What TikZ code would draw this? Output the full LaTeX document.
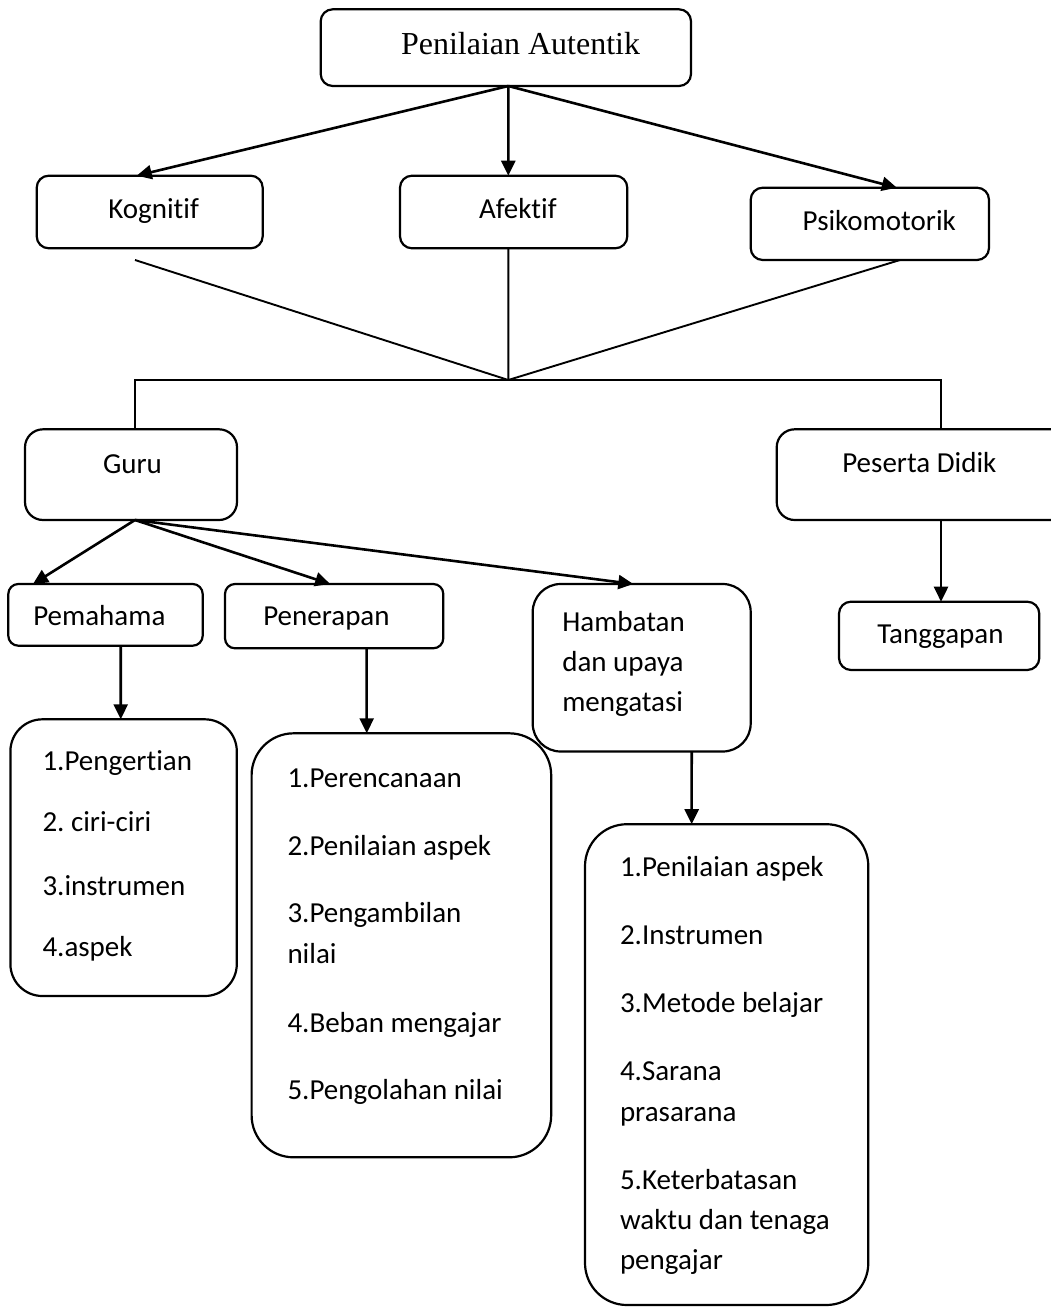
\documentclass[tikz,border=0pt]{standalone}
\usepackage{fontspec}
\setmainfont{Carlito}[Ligatures={NoCommon}]
\newfontfamily\titlefont{Liberation Serif}
\usetikzlibrary{arrows.meta}
\frenchspacing
\begin{document}
\begin{tikzpicture}[x=1pt,y=-1pt,
  box/.style={draw, line width=2.2pt, rounded corners=#1, inner sep=0pt, outer sep=0pt},
  box/.default=12pt,
  lbl/.style={inner sep=0pt, outer sep=0pt, anchor=base west, font=\fontsize{29}{40}\selectfont},
  ttl/.style={inner sep=0pt, outer sep=0pt, anchor=base west, font=\titlefont\fontsize{32}{38}\selectfont},
  arr/.style={line width=2.6pt, -{Triangle[length=15pt,width=14pt]}},
  link/.style={line width=1.9pt}]
\path[fill=white, use as bounding box] (0,0) rectangle (1051,1309);
\clip (0,0) rectangle (1051,1309);

% boxes
\node[box] (title) at (505.85,47.65) [minimum width=370.3pt, minimum height=76.7pt] {};
\node[box] (kog) at (149.7,212) [minimum width=226pt, minimum height=72.6pt] {};
\node[box] (afe) at (513.65,212) [minimum width=227.3pt, minimum height=72.6pt] {};
\node[box] (psi) at (869.85,223.85) [minimum width=238.3pt, minimum height=72.3pt] {};
\node[box=18pt] (guru) at (131,474.65) [minimum width=212pt, minimum height=90.7pt] {};
\node[box=18pt] (pes) at (941,474.65) [minimum width=328.6pt, minimum height=90.7pt] {};
\node[box=10pt] (pem) at (105.5,614.85) [minimum width=194.4pt, minimum height=61.7pt] {};
\node[box=10pt] (pen) at (334.15,616.15) [minimum width=218.3pt, minimum height=64.3pt] {};
\node[box=28pt] (ham) at (641.7,667.75) [minimum width=218pt, minimum height=167.5pt] {};
\node[box] (tan) at (939.15,635.85) [minimum width=200.3pt, minimum height=68.3pt] {};
\node[box=32pt] (l1) at (123.6,857.65) [minimum width=226.4pt, minimum height=276.7pt] {};
\node[box=42pt] (l2) at (401.4,945.3) [minimum width=299.6pt, minimum height=424pt] {};
\node[box=42pt] (l3) at (726.65,1064.6) [minimum width=283.3pt, minimum height=480.8pt] {};

% texts
\node[ttl] (tt) at (401,54.3) {Penilaian Autentik};
\node[lbl] (kogt) at (108.3,218.3) {Kognitif};
\node[lbl] (afet) at (479,218.3) {Afektif};
\node[lbl] (psit) at (802.7,230) {Psikomotorik};
\node[lbl] (gurut) at (103,473.3) {Guru};
\node[lbl] (pest) at (842.3,472.7) {Peserta Didik};
\node[lbl] (pemt) at (33.3,625) {Pemahama};
\node[lbl] (pent) at (263.3,625) {Penerapan};
\node[lbl] (hamt1) at (562.3,631.7) {Hambatan};
\node[lbl] (hamt2) at (562.3,671.7) {dan upaya};
\node[lbl] (hamt3) at (562.3,711.7) {mengatasi};
\node[lbl] (tant) at (877.3,643.3) {Tanggapan};

\node[lbl] (a1) at (42.5,770) {1.Pengertian};
\node[lbl] (a2) at (42.5,831.7) {2. ciri-ciri};
\node[lbl] (a3) at (42.5,895) {3.instrumen};
\node[lbl] (a4) at (42.5,956.7) {4.aspek};

\node[lbl] (b1) at (287.5,787.3) {1.Perencanaan};
\node[lbl] (b2) at (287.5,855) {2.Penilaian aspek};
\node[lbl] (b3) at (287.5,922.7) {3.Pengambilan};
\node[lbl] (b3b) at (287.5,963.3) {nilai};
\node[lbl] (b4) at (287.5,1032.3) {4.Beban mengajar};
\node[lbl] (b5) at (287.5,1099.3) {5.Pengolahan nilai};

\node[lbl] (c1) at (620,876) {1.Penilaian aspek};
\node[lbl] (c2) at (620,944) {2.Instrumen};
\node[lbl] (c3) at (620,1012) {3.Metode belajar};
\node[lbl] (c4) at (620,1080.3) {4.Sarana};
\node[lbl] (c4b) at (620,1121) {prasarana};
\node[lbl] (c5) at (620,1189) {5.Keterbatasan};
\node[lbl] (c5b) at (620,1229.8) {waktu dan tenaga};
\node[lbl] (c5c) at (620,1269.8) {pengajar};

% connectors
\draw[arr] ([xshift=2.45pt]title.south) -- ([xshift=-13pt]kog.north);
\draw[arr] ([xshift=2.45pt]title.south) -- ([xshift=-5.35pt]afe.north);
\draw[arr] ([xshift=2.45pt]title.south) -- ([xshift=27pt]psi.north);

\coordinate (merge) at (508.3,380);
\coordinate (kogfoot) at (135,260);
\draw[link] (kogfoot) -- (merge);
\draw[link] ([xshift=-5.35pt]afe.south) -- (merge);
\draw[link] ([xshift=30.15pt]psi.south) -- (merge);
\draw[link] ([xshift=4pt]guru.north) |- (merge) -| (pes.north);

\draw[arr] ([xshift=4pt]guru.south) -- ([xshift=-72.5pt]pem.north);
\draw[arr] ([xshift=4pt]guru.south) -- ([xshift=-4pt]pen.north);
\draw[arr] ([xshift=4pt]guru.south) -- ([xshift=-8.4pt]ham.north);
\draw[arr] ([xshift=15.2pt]pem.south) -- ([xshift=-2.9pt]l1.north);
\draw[arr] ([xshift=32.5pt]pen.south) -- ([xshift=-34.7pt]l2.north);
\draw[arr] ([xshift=50pt]ham.south) -- ([xshift=-35pt]l3.north);
\draw[arr] (pes.south) -- ([xshift=1.85pt]tan.north);
\end{tikzpicture}
\end{document}
